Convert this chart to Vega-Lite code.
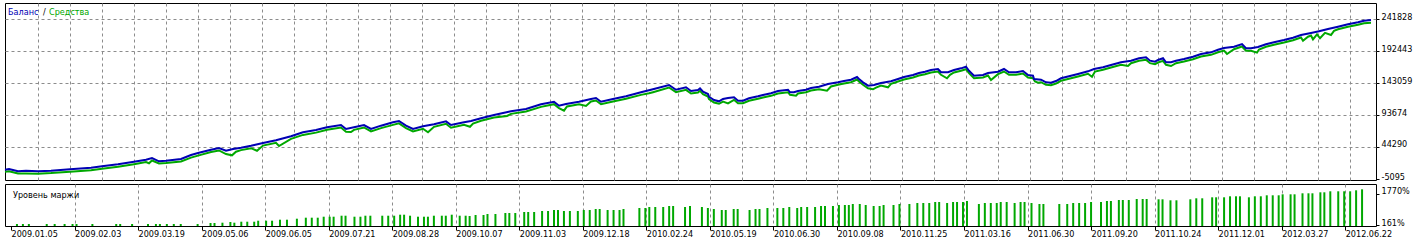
{
"$schema": "https://vega.github.io/schema/vega-lite/v6.json",
"background": "white",
"padding": {"left": 0, "top": 2, "right": 0, "bottom": 0},
"spacing": 1,
"config": {
  "view": {"stroke": "#000000", "strokeWidth": 1},
  "font": "DejaVu Sans Condensed, Liberation Sans",
  "text": {"font": "DejaVu Sans Condensed, Liberation Sans"},
  "axis": {"labelFont": "DejaVu Sans Condensed, Liberation Sans", "labelFontSize": 9, "labelColor": "#000000", "domain": false, "tickColor": "#000000", "gridColor": "#8c8c8c", "gridDash": [3, 3], "gridWidth": 1, "title": null, "labelOverlap": false}
},
"datasets": {
  "bal": [{"i":4,"v":9250},{"i":8,"v":10330},{"i":17,"v":6800},{"i":25,"v":7700},{"i":37,"v":6800},{"i":50,"v":7700},{"i":69,"v":9900},{"i":90,"v":12300},{"i":101,"v":14500},{"i":117,"v":17600},{"i":133,"v":21600},{"i":145,"v":24700},{"i":151,"v":27300},{"i":158,"v":22200},{"i":165,"v":23100},{"i":180,"v":25800},{"i":190,"v":31900},{"i":197,"v":35000},{"i":210,"v":40100},{"i":218,"v":42700},{"i":225,"v":38600},{"i":232,"v":41200},{"i":240,"v":43200},{"i":250,"v":46300},{"i":262,"v":50500},{"i":275,"v":54600},{"i":290,"v":60800},{"i":302,"v":67000},{"i":315,"v":70500},{"i":326,"v":74700},{"i":340,"v":78200},{"i":345,"v":72100},{"i":353,"v":74700},{"i":363,"v":78200},{"i":370,"v":72100},{"i":380,"v":77200},{"i":392,"v":82400},{"i":398,"v":84400},{"i":405,"v":77200},{"i":412,"v":72100},{"i":422,"v":76200},{"i":433,"v":79300},{"i":445,"v":83900},{"i":450,"v":78200},{"i":463,"v":82400},{"i":470,"v":84400},{"i":480,"v":88600},{"i":493,"v":93700},{"i":510,"v":99400},{"i":525,"v":102900},{"i":540,"v":110200},{"i":553,"v":114200},{"i":558,"v":108000},{"i":565,"v":110600},{"i":578,"v":114200},{"i":590,"v":118400},{"i":595,"v":119900},{"i":600,"v":114200},{"i":612,"v":118400},{"i":625,"v":122500},{"i":640,"v":128700},{"i":650,"v":132700},{"i":668,"v":140000},{"i":675,"v":132700},{"i":685,"v":136400},{"i":690,"v":130700},{"i":697,"v":132300},{"i":699,"v":134900},{"i":702,"v":129600},{"i":707,"v":126100},{"i":708,"v":121900},{"i":713,"v":116800},{"i":718,"v":114800},{"i":722,"v":118400},{"i":727,"v":119900},{"i":733,"v":121000},{"i":737,"v":115700},{"i":742,"v":115700},{"i":748,"v":119400},{"i":757,"v":122500},{"i":762,"v":124500},{"i":770,"v":127200},{"i":777,"v":130700},{"i":787,"v":132700},{"i":789,"v":128700},{"i":793,"v":128700},{"i":797,"v":130700},{"i":805,"v":132700},{"i":810,"v":135300},{"i":818,"v":137300},{"i":827,"v":141500},{"i":837,"v":144100},{"i":843,"v":146100},{"i":850,"v":148200},{"i":856,"v":152300},{"i":858,"v":149200},{"i":862,"v":144100},{"i":867,"v":138900},{"i":873,"v":140000},{"i":880,"v":143100},{"i":890,"v":145700},{"i":897,"v":149200},{"i":903,"v":152300},{"i":912,"v":155400},{"i":918,"v":158500},{"i":924,"v":160500},{"i":930,"v":163100},{"i":937,"v":164700},{"i":940,"v":159600},{"i":947,"v":159600},{"i":953,"v":163100},{"i":960,"v":165700},{"i":965,"v":168200},{"i":968,"v":162000},{"i":973,"v":154300},{"i":982,"v":155400},{"i":987,"v":158500},{"i":997,"v":160500},{"i":1003,"v":164700},{"i":1008,"v":159600},{"i":1015,"v":159600},{"i":1022,"v":161600},{"i":1027,"v":155400},{"i":1032,"v":154300},{"i":1033,"v":149200},{"i":1040,"v":148200},{"i":1045,"v":144100},{"i":1050,"v":143500},{"i":1055,"v":146100},{"i":1060,"v":150300},{"i":1068,"v":153400},{"i":1077,"v":156900},{"i":1087,"v":161100},{"i":1093,"v":164700},{"i":1102,"v":167300},{"i":1110,"v":170800},{"i":1120,"v":175000},{"i":1130,"v":177500},{"i":1138,"v":181200},{"i":1145,"v":182700},{"i":1149,"v":177500},{"i":1154,"v":175900},{"i":1157,"v":178600},{"i":1162,"v":181200},{"i":1165,"v":175000},{"i":1170,"v":175000},{"i":1175,"v":177500},{"i":1183,"v":180100},{"i":1192,"v":183600},{"i":1200,"v":187800},{"i":1210,"v":190400},{"i":1217,"v":194400},{"i":1223,"v":197100},{"i":1233,"v":199100},{"i":1241,"v":203200},{"i":1245,"v":196600},{"i":1250,"v":196600},{"i":1257,"v":198600},{"i":1265,"v":202800},{"i":1273,"v":205900},{"i":1283,"v":209400},{"i":1292,"v":213000},{"i":1300,"v":217100},{"i":1310,"v":220200},{"i":1318,"v":222800},{"i":1327,"v":226400},{"i":1337,"v":229900},{"i":1347,"v":233600},{"i":1357,"v":236700},{"i":1363,"v":239200},{"i":1370,"v":240300}],
  "eq": [{"i":4,"v":7500},{"i":8,"v":8500},{"i":17,"v":4800},{"i":25,"v":5000},{"i":37,"v":4700},{"i":50,"v":5600},{"i":69,"v":7800},{"i":90,"v":10000},{"i":101,"v":12300},{"i":117,"v":15300},{"i":133,"v":19200},{"i":145,"v":22500},{"i":148,"v":20700},{"i":151,"v":25000},{"i":158,"v":20500},{"i":165,"v":21000},{"i":180,"v":23500},{"i":190,"v":29500},{"i":197,"v":32500},{"i":210,"v":38000},{"i":218,"v":40500},{"i":225,"v":35000},{"i":231,"v":33000},{"i":235,"v":38500},{"i":240,"v":41000},{"i":250,"v":44000},{"i":256,"v":40100},{"i":262,"v":48000},{"i":275,"v":52300},{"i":278,"v":47400},{"i":290,"v":58500},{"i":302,"v":64500},{"i":315,"v":68000},{"i":326,"v":72300},{"i":340,"v":76000},{"i":345,"v":69500},{"i":350,"v":69000},{"i":353,"v":72300},{"i":363,"v":76000},{"i":370,"v":69800},{"i":380,"v":75000},{"i":392,"v":80000},{"i":398,"v":82300},{"i":405,"v":75000},{"i":412,"v":69800},{"i":422,"v":74000},{"i":427,"v":68500},{"i":433,"v":77000},{"i":445,"v":81700},{"i":450,"v":75500},{"i":463,"v":80100},{"i":469,"v":77100},{"i":472,"v":82000},{"i":480,"v":86300},{"i":493,"v":91300},{"i":506,"v":93700},{"i":510,"v":97000},{"i":525,"v":100600},{"i":540,"v":107800},{"i":553,"v":111900},{"i":558,"v":105700},{"i":563,"v":101900},{"i":566,"v":108300},{"i":578,"v":111900},{"i":585,"v":109100},{"i":590,"v":116000},{"i":595,"v":117500},{"i":600,"v":111800},{"i":612,"v":116000},{"i":625,"v":120200},{"i":640,"v":126300},{"i":648,"v":128700},{"i":652,"v":130400},{"i":668,"v":137600},{"i":675,"v":130400},{"i":685,"v":134000},{"i":690,"v":128400},{"i":697,"v":130000},{"i":699,"v":132500},{"i":702,"v":127300},{"i":707,"v":123700},{"i":708,"v":119600},{"i":713,"v":114500},{"i":718,"v":112500},{"i":722,"v":116000},{"i":727,"v":113200},{"i":733,"v":118600},{"i":737,"v":113400},{"i":742,"v":113400},{"i":748,"v":117100},{"i":757,"v":120200},{"i":762,"v":122200},{"i":770,"v":124800},{"i":777,"v":128400},{"i":787,"v":130400},{"i":789,"v":126300},{"i":795,"v":125000},{"i":797,"v":128400},{"i":805,"v":130400},{"i":810,"v":133000},{"i":818,"v":135000},{"i":826,"v":132700},{"i":830,"v":139200},{"i":837,"v":141800},{"i":843,"v":143800},{"i":850,"v":145800},{"i":856,"v":150000},{"i":858,"v":146900},{"i":862,"v":141800},{"i":867,"v":136500},{"i":872,"v":134900},{"i":875,"v":137600},{"i":880,"v":140700},{"i":887,"v":137900},{"i":890,"v":143300},{"i":897,"v":146900},{"i":903,"v":150000},{"i":912,"v":153100},{"i":918,"v":156200},{"i":924,"v":158200},{"i":930,"v":160800},{"i":937,"v":162300},{"i":940,"v":157200},{"i":946,"v":151800},{"i":949,"v":157200},{"i":953,"v":160800},{"i":960,"v":163400},{"i":965,"v":165900},{"i":968,"v":159700},{"i":973,"v":152000},{"i":982,"v":153100},{"i":987,"v":156200},{"i":990,"v":149200},{"i":997,"v":158200},{"i":1003,"v":162300},{"i":1008,"v":157200},{"i":1015,"v":157200},{"i":1022,"v":159200},{"i":1027,"v":153100},{"i":1032,"v":152000},{"i":1034,"v":146900},{"i":1037,"v":145100},{"i":1040,"v":145800},{"i":1045,"v":141800},{"i":1048,"v":141500},{"i":1050,"v":141200},{"i":1055,"v":143800},{"i":1060,"v":148000},{"i":1068,"v":151100},{"i":1077,"v":154600},{"i":1087,"v":158800},{"i":1091,"v":154300},{"i":1094,"v":162300},{"i":1102,"v":165000},{"i":1110,"v":168500},{"i":1120,"v":172700},{"i":1127,"v":170800},{"i":1130,"v":175200},{"i":1138,"v":178800},{"i":1145,"v":180400},{"i":1149,"v":175200},{"i":1154,"v":173600},{"i":1157,"v":176200},{"i":1162,"v":178800},{"i":1165,"v":172700},{"i":1170,"v":170800},{"i":1175,"v":175200},{"i":1183,"v":177800},{"i":1192,"v":181300},{"i":1200,"v":185500},{"i":1210,"v":188100},{"i":1217,"v":192100},{"i":1223,"v":194700},{"i":1226,"v":189400},{"i":1233,"v":196800},{"i":1241,"v":200900},{"i":1245,"v":194300},{"i":1250,"v":194300},{"i":1256,"v":191400},{"i":1258,"v":196300},{"i":1265,"v":200500},{"i":1273,"v":203500},{"i":1283,"v":207100},{"i":1292,"v":210700},{"i":1300,"v":214800},{"i":1302,"v":209900},{"i":1307,"v":216000},{"i":1310,"v":217900},{"i":1312,"v":212000},{"i":1316,"v":219500},{"i":1319,"v":213600},{"i":1324,"v":222000},{"i":1330,"v":218700},{"i":1333,"v":225000},{"i":1337,"v":227600},{"i":1347,"v":231300},{"i":1357,"v":234400},{"i":1363,"v":236900},{"i":1370,"v":237700}],
  "mrg": [{"i":11,"m":213},{"i":17,"m":213},{"i":23,"m":213},{"i":41,"m":213},{"i":49,"m":213},{"i":59,"m":213},{"i":67,"m":213},{"i":71,"m":213},{"i":87,"m":213},{"i":111,"m":213},{"i":115,"m":213},{"i":127,"m":213},{"i":143,"m":213},{"i":151,"m":213},{"i":155,"m":213},{"i":162,"m":213},{"i":169,"m":213},{"i":176,"m":213},{"i":193,"m":213},{"i":206,"m":264},{"i":210,"m":264},{"i":218,"m":280},{"i":226,"m":316},{"i":230,"m":280},{"i":237,"m":331},{"i":243,"m":331},{"i":250,"m":331},{"i":254,"m":382},{"i":262,"m":382},{"i":268,"m":382},{"i":276,"m":434},{"i":283,"m":434},{"i":293,"m":485},{"i":302,"m":537},{"i":308,"m":537},{"i":314,"m":537},{"i":320,"m":588},{"i":326,"m":588},{"i":330,"m":588},{"i":338,"m":639},{"i":342,"m":639},{"i":351,"m":588},{"i":357,"m":588},{"i":362,"m":639},{"i":367,"m":639},{"i":379,"m":639},{"i":385,"m":639},{"i":391,"m":639},{"i":397,"m":691},{"i":401,"m":691},{"i":407,"m":639},{"i":415,"m":588},{"i":421,"m":588},{"i":425,"m":588},{"i":431,"m":639},{"i":439,"m":639},{"i":443,"m":639},{"i":449,"m":691},{"i":457,"m":639},{"i":463,"m":639},{"i":467,"m":624},{"i":473,"m":675},{"i":481,"m":675},{"i":485,"m":727},{"i":493,"m":727},{"i":503,"m":778},{"i":507,"m":778},{"i":513,"m":778},{"i":522,"m":830},{"i":526,"m":830},{"i":532,"m":830},{"i":540,"m":881},{"i":546,"m":881},{"i":552,"m":932},{"i":556,"m":932},{"i":562,"m":881},{"i":568,"m":881},{"i":576,"m":881},{"i":582,"m":932},{"i":588,"m":932},{"i":594,"m":984},{"i":598,"m":984},{"i":606,"m":932},{"i":612,"m":932},{"i":618,"m":932},{"i":622,"m":984},{"i":638,"m":1035},{"i":644,"m":1035},{"i":648,"m":1087},{"i":654,"m":1087},{"i":662,"m":1087},{"i":668,"m":1138},{"i":672,"m":1138},{"i":684,"m":1087},{"i":689,"m":1138},{"i":701,"m":1087},{"i":707,"m":1035},{"i":713,"m":984},{"i":721,"m":932},{"i":725,"m":932},{"i":733,"m":984},{"i":737,"m":984},{"i":749,"m":932},{"i":755,"m":984},{"i":759,"m":984},{"i":767,"m":1035},{"i":777,"m":1035},{"i":783,"m":1035},{"i":789,"m":1087},{"i":797,"m":1035},{"i":801,"m":1087},{"i":807,"m":1087},{"i":815,"m":1087},{"i":821,"m":1138},{"i":825,"m":1138},{"i":833,"m":1138},{"i":839,"m":1189},{"i":845,"m":1189},{"i":849,"m":1189},{"i":853,"m":1241},{"i":860,"m":1241},{"i":866,"m":1189},{"i":874,"m":1138},{"i":880,"m":1138},{"i":884,"m":1189},{"i":894,"m":1189},{"i":900,"m":1241},{"i":910,"m":1241},{"i":918,"m":1292},{"i":924,"m":1292},{"i":930,"m":1292},{"i":936,"m":1344},{"i":940,"m":1344},{"i":948,"m":1292},{"i":954,"m":1344},{"i":958,"m":1344},{"i":964,"m":1344},{"i":968,"m":1395},{"i":980,"m":1241},{"i":986,"m":1292},{"i":992,"m":1292},{"i":998,"m":1292},{"i":1002,"m":1344},{"i":1008,"m":1344},{"i":1016,"m":1292},{"i":1022,"m":1344},{"i":1026,"m":1344},{"i":1033,"m":1292},{"i":1041,"m":1241},{"i":1045,"m":1241},{"i":1061,"m":1241},{"i":1069,"m":1241},{"i":1075,"m":1292},{"i":1081,"m":1292},{"i":1087,"m":1292},{"i":1093,"m":1344},{"i":1103,"m":1344},{"i":1109,"m":1395},{"i":1113,"m":1395},{"i":1121,"m":1446},{"i":1125,"m":1446},{"i":1131,"m":1446},{"i":1139,"m":1498},{"i":1145,"m":1498},{"i":1149,"m":1498},{"i":1161,"m":1482},{"i":1165,"m":1482},{"i":1173,"m":1431},{"i":1179,"m":1431},{"i":1193,"m":1482},{"i":1199,"m":1534},{"i":1205,"m":1534},{"i":1215,"m":1585},{"i":1219,"m":1585},{"i":1227,"m":1585},{"i":1233,"m":1637},{"i":1239,"m":1637},{"i":1243,"m":1637},{"i":1252,"m":1585},{"i":1258,"m":1637},{"i":1264,"m":1637},{"i":1270,"m":1688},{"i":1276,"m":1688},{"i":1282,"m":1688},{"i":1286,"m":1739},{"i":1294,"m":1739},{"i":1298,"m":1739},{"i":1306,"m":1791},{"i":1312,"m":1791},{"i":1316,"m":1791},{"i":1324,"m":1842},{"i":1328,"m":1842},{"i":1334,"m":1894},{"i":1342,"m":1894},{"i":1348,"m":1894},{"i":1354,"m":1894},{"i":1360,"m":1945},{"i":1366,"m":1996}]
},
"vconcat": [
  {
    "width": 1371, "height": 177,
    "encoding": {
      "x": {"type": "quantitative", "scale": {"domain": [4, 1375], "nice": false, "zero": false},
            "axis": {"values": [37,69,101,133,165,197,229,261,293,325,357,389,421,453,485,517,549,581,613,645,677,709,741,773,805,837,869,901,933,965,997,1029,1061,1093,1125,1157,1189,1221,1253,1285,1317,1349], "labels": false, "ticks": false, "grid": true, "domain": false, "maxExtent": 0, "minExtent": 0}},
      "y": {"type": "quantitative", "scale": {"domain": [-6638, 266521], "nice": false, "zero": false},
            "axis": {"orient": "right", "values": [-5095, 44290, 93674, 143059, 192443, 241828], "labelExpr": "datum.value + ''", "grid": true, "gridOpacity": {"condition": {"test": "datum.value > 0", "value": 1}, "value": 0}, "tickSize": 3, "labelAlign": "left", "labelBaseline": "alphabetic", "labelPadding": 2, "labelBound": false, "labelOverlap": false, "labelSeparation": 0}}
    },
    "layer": [
      {
        "data": {"name": "eq"},
        "mark": {"type": "line", "color": "#00a800", "strokeWidth": 2, "yOffset": 1},
        "encoding": {
          "x": {"field": "i", "type": "quantitative", "scale": {"domain": [4, 1375], "nice": false, "zero": false},
                "axis": {"values": [37,69,101,133,165,197,229,261,293,325,357,389,421,453,485,517,549,581,613,645,677,709,741,773,805,837,869,901,933,965,997,1029,1061,1093,1125,1157,1189,1221,1253,1285,1317,1349], "labels": false, "ticks": false, "grid": true, "domain": false, "maxExtent": 0, "minExtent": 0}},
          "y": {"field": "v", "type": "quantitative", "scale": {"domain": [-6638, 266521], "nice": false, "zero": false},
                "axis": {"orient": "right", "values": [-5095, 44290, 93674, 143059, 192443, 241828], "labelExpr": "datum.value + ''", "grid": true, "gridOpacity": {"condition": {"test": "datum.value > 0", "value": 1}, "value": 0}, "tickSize": 3, "labelAlign": "left", "labelBaseline": "alphabetic", "labelPadding": 2, "labelBound": false, "labelOverlap": false, "labelSeparation": 0}}
        }
      },
      {
        "data": {"name": "bal"},
        "mark": {"type": "line", "color": "#0000b4", "strokeWidth": 2},
        "encoding": {
          "x": {"field": "i", "type": "quantitative", "scale": {"domain": [4, 1375], "nice": false, "zero": false},
                "axis": {"values": [37,69,101,133,165,197,229,261,293,325,357,389,421,453,485,517,549,581,613,645,677,709,741,773,805,837,869,901,933,965,997,1029,1061,1093,1125,1157,1189,1221,1253,1285,1317,1349], "labels": false, "ticks": false, "grid": true, "domain": false, "maxExtent": 0, "minExtent": 0}},
          "y": {"field": "v", "type": "quantitative", "scale": {"domain": [-6638, 266521], "nice": false, "zero": false},
                "axis": {"orient": "right", "values": [-5095, 44290, 93674, 143059, 192443, 241828], "labelExpr": "datum.value + ''", "grid": true, "gridOpacity": {"condition": {"test": "datum.value > 0", "value": 1}, "value": 0}, "tickSize": 3, "labelAlign": "left", "labelBaseline": "alphabetic", "labelPadding": 2, "labelBound": false, "labelOverlap": false, "labelSeparation": 0}}
        }
      },
      {
        "data": {"values": [{"t": "Баланс"}]},
        "mark": {"type": "text", "align": "left", "baseline": "alphabetic", "fontSize": 9, "color": "#0000b4"},
        "encoding": {"x": {"datum": 7}, "y": {"datum": 248000}, "text": {"field": "t"}}
      },
      {
        "data": {"values": [{"t": "/"}]},
        "mark": {"type": "text", "align": "left", "baseline": "alphabetic", "fontSize": 9, "color": "#000000"},
        "encoding": {"x": {"datum": 42}, "y": {"datum": 248000}, "text": {"field": "t"}}
      },
      {
        "data": {"values": [{"t": "Средства"}]},
        "mark": {"type": "text", "align": "left", "baseline": "alphabetic", "fontSize": 9, "color": "#00a800"},
        "encoding": {"x": {"datum": 48}, "y": {"datum": 248000}, "text": {"field": "t"}}
      }
    ]
  },
  {
    "width": 1371, "height": 42,
    "layer": [
      {
        "data": {"name": "mrg"},
        "mark": {"type": "bar", "color": "#00a800", "size": 2},
        "encoding": {
          "x": {"field": "i", "type": "quantitative", "scale": {"domain": [4, 1375], "nice": false, "zero": false},
                "axis": {"values": [5,37,69,101,133,165,197,229,261,293,325,357,389,421,453,485,517,549,581,613,645,677,709,741,773,805,837,869,901,933,965,997,1029,1061,1093,1125,1157,1189,1221,1253,1285,1317,1349],
                         "grid": true, "gridOpacity": {"condition": {"test": "datum.value > 6", "value": 1}, "value": 0},
                         "tickOpacity": {"condition": {"test": "(datum.value - 5) % 64 == 0", "value": 1}, "value": 0},
                         "tickSize": 4, "labelAlign": "left", "labelBaseline": "top", "labelPadding": -1, "labelOverlap": false, "labelFlush": false, "labelBound": false,
                         "labelExpr": "(datum.value - 5) % 64 == 0 ? ['2009.01.05','2009.02.03','2009.03.19','2009.05.06','2009.06.05','2009.07.21','2009.08.28','2009.10.07','2009.11.03','2009.12.18','2010.02.24','2010.05.19','2010.06.30','2010.09.08','2010.11.25','2011.03.16','2011.06.30','2011.09.20','2011.10.24','2011.12.01','2012.03.27','2012.06.22'][(datum.value - 5) / 64] : ''"}},
          "y": {"field": "m", "type": "quantitative", "scale": {"domain": [110, 2269], "nice": false, "zero": false},
                "axis": {"orient": "right", "values": [161, 1770], "grid": false, "tickSize": 3, "labelAlign": "left", "labelBaseline": "alphabetic", "labelPadding": 2, "labelBound": false, "labelOverlap": false, "labelExpr": "datum.value + '%'"}},
          "y2": {"datum": 110}
        }
      },
      {
        "data": {"values": [{"t": "Уровень маржи"}]},
        "mark": {"type": "text", "align": "left", "baseline": "alphabetic", "fontSize": 9, "color": "#000000"},
        "encoding": {"x": {"datum": 7}, "y": {"datum": 1560}, "text": {"field": "t"}}
      }
    ]
  }
]
}
